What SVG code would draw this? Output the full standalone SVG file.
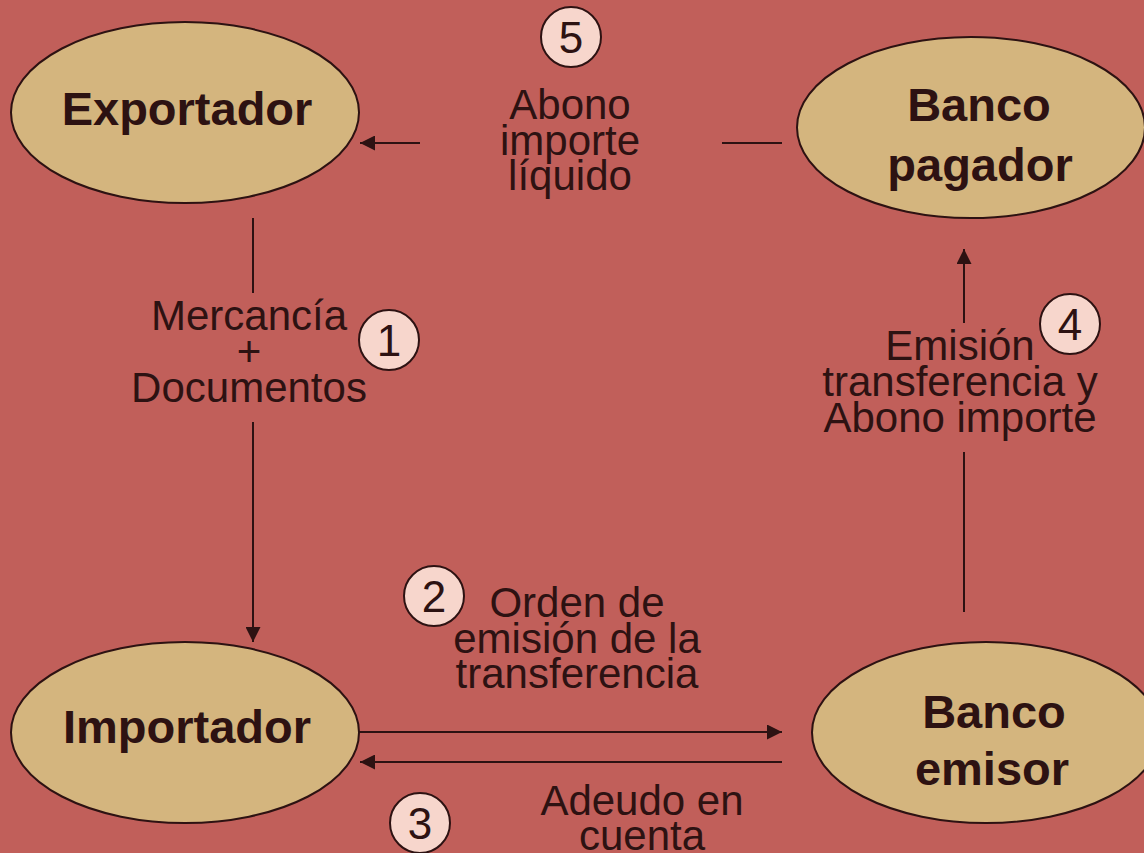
<svg xmlns="http://www.w3.org/2000/svg" width="1144" height="853" viewBox="0 0 1144 853">
<style>
.node{fill:#d4b57e;stroke:#2d1212;stroke-width:2}
.nt{font-family:"Liberation Sans",Arial,sans-serif;font-weight:bold;font-size:47px;fill:#2d1212;text-anchor:middle}
.lbl{font-family:"Liberation Sans",Arial,sans-serif;font-size:42px;fill:#2d1212;text-anchor:middle}
.num{fill:#f7d6cc;stroke:#2d1212;stroke-width:2}
.numt{font-family:"Liberation Sans",Arial,sans-serif;font-size:44px;fill:#2d1212;text-anchor:middle}
.c{stroke:#2d1212;stroke-width:2;fill:none}
</style>
<defs>
<marker id="ah" viewBox="0 0 15 15" refX="15" refY="7.5" markerWidth="15" markerHeight="15" markerUnits="userSpaceOnUse" orient="auto">
<path d="M0,0 L15,7.5 L0,15 Z" fill="#2d1212"/>
</marker>
</defs>
<rect width="1144" height="853" fill="#c15f5a"/>
<g id="connectors">
<line class="c" x1="420" y1="143" x2="360" y2="143" marker-end="url(#ah)"/>
<line class="c" x1="722" y1="143" x2="782" y2="143"/>
<line class="c" x1="253" y1="218" x2="253" y2="293"/>
<line class="c" x1="253" y1="422" x2="253" y2="642" marker-end="url(#ah)"/>
<line class="c" x1="964" y1="323" x2="964" y2="249" marker-end="url(#ah)"/>
<line class="c" x1="964" y1="452" x2="964" y2="612"/>
<line class="c" x1="359" y1="732" x2="782" y2="732" marker-end="url(#ah)"/>
<line class="c" x1="782" y1="762" x2="360" y2="762" marker-end="url(#ah)"/>
<text class="lbl" x="570"><tspan x="570" y="119">Abono</tspan><tspan x="570" y="155">importe</tspan><tspan x="570" y="190">líquido</tspan></text>
<text class="lbl"><tspan x="249" y="330">Mercancía</tspan><tspan x="249" y="366">+</tspan><tspan x="249" y="402">Documentos</tspan></text>
<text class="lbl"><tspan x="960" y="360">Emisión</tspan><tspan x="960" y="396">transferencia y</tspan><tspan x="960" y="432">Abono importe</tspan></text>
<text class="lbl"><tspan x="577" y="617">Orden de</tspan><tspan x="577" y="653">emisión de la</tspan><tspan x="577" y="688">transferencia</tspan></text>
<text class="lbl"><tspan x="642" y="815">Adeudo en</tspan><tspan x="642" y="850">cuenta</tspan></text>
</g>
<g id="step1"><circle class="num" cx="389" cy="340" r="30"/><text class="numt" x="389" y="356">1</text></g>
<g id="step2"><circle class="num" cx="434" cy="596" r="30"/><text class="numt" x="434" y="612">2</text></g>
<g id="step3"><circle class="num" cx="420" cy="823" r="30"/><text class="numt" x="420" y="839">3</text></g>
<g id="step4"><circle class="num" cx="1070" cy="324" r="30"/><text class="numt" x="1070" y="340">4</text></g>
<g id="step5"><circle class="num" cx="571" cy="37" r="30"/><text class="numt" x="571" y="53">5</text></g>
<g id="exportador"><ellipse class="node" cx="185" cy="112.5" rx="174" ry="90.5"/><text class="nt" x="187" y="125">Exportador</text></g>
<g id="banco-pagador"><ellipse class="node" cx="971" cy="127.5" rx="174" ry="90.5"/><text class="nt"><tspan x="979" y="121">Banco</tspan><tspan x="980" y="181">pagador</tspan></text></g>
<g id="importador"><ellipse class="node" cx="185" cy="732.5" rx="174" ry="90.5"/><text class="nt" x="187" y="743">Importador</text></g>
<g id="banco-emisor"><ellipse class="node" cx="986" cy="732.5" rx="174" ry="90.5"/><text class="nt"><tspan x="994" y="728">Banco</tspan><tspan x="992" y="785">emisor</tspan></text></g>
</svg>
